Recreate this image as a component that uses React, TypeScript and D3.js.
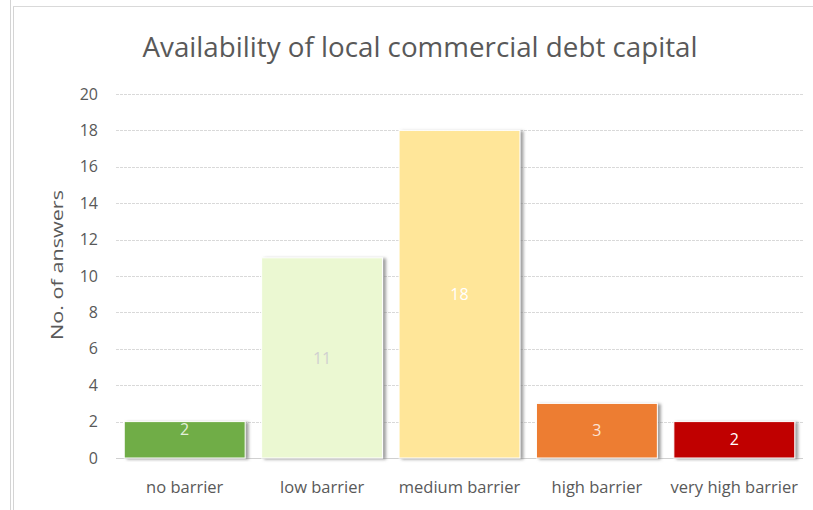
import { useMemo } from "react";
import * as d3 from "d3";

const categories = ["no barrier", "low barrier", "medium barrier", "high barrier", "very high barrier"];
const answers = [2, 11, 18, 3, 2];
const barColors = ["#70AD47", "#EBF8D2", "#FFE699", "#ED7D31", "#C00000"];
const labelColors = ["#E2EFDA", "#D0D0D0", "#FFFFFF", "#FCE4D6", "#FFFFFF"];
const labelModes = ["end", "center", "center", "center", "center"];
const yTicks = [0, 2, 4, 6, 8, 10, 12, 14, 16, 18, 20];

const W = 813;
const H = 510;
const PLOT = { left: 116, right: 803, top: 94, bottom: 458 };
const FONT = "'Open Sans', sans-serif";

export default function App() {
  const x = useMemo(
    () => d3.scaleBand<string>().domain(categories).range([PLOT.left, PLOT.right]).paddingInner(0.12).paddingOuter(0.06),
    []
  );
  const y = useMemo(() => d3.scaleLinear().domain([0, 20]).range([PLOT.bottom, PLOT.top]), []);

  return (
    <svg
      width={W}
      height={H}
      style={{ position: "absolute", left: 0, top: 0, background: "#fff" }}
      fontFamily={FONT}
    >
      <defs>
        <filter id="shadow" x="-10%" y="-10%" width="130%" height="120%">
          <feDropShadow dx={3} dy={1} stdDeviation={1.8} floodColor="#777" floodOpacity={0.7} />
        </filter>
      </defs>

      {/* frame */}
      <line x1={10.5} x2={10.5} y1={0} y2={H} stroke="#d4d4d4" />
      <line x1={13.5} x2={13.5} y1={6} y2={H} stroke="#d4d4d4" />
      <line x1={13} x2={W} y1={6.5} y2={6.5} stroke="#d9d9d9" />

      <text
        x={420}
        y={57}
        textAnchor="middle"
        fontSize={27}
        fill="#595959"
        textLength={555}
        lengthAdjust="spacingAndGlyphs"
      >
        Availability of local commercial debt capital
      </text>

      {/* gridlines */}
      {yTicks.map((t) => (
        <g key={t}>
          <line
            x1={PLOT.left}
            x2={PLOT.right}
            y1={Math.round(y(t)) + 0.5}
            y2={Math.round(y(t)) + 0.5}
            stroke={t === 0 ? "#d0d0d0" : "#d9d9d9"}
            strokeDasharray={t === 0 ? undefined : "3 1"}
          />
          <text
            x={98}
            y={y(t)}
            dy="0.35em"
            textAnchor="end"
            fontSize={16}
            fill="#595959"
          >
            {t}
          </text>
        </g>
      ))}

      <text
        transform={`translate(57,${(PLOT.top + PLOT.bottom) / 2 - 11}) rotate(-90)`}
        textAnchor="middle"
        dy="0.35em"
        fontSize={17}
        fill="#595959"
        textLength={150}
        lengthAdjust="spacingAndGlyphs"
      >
        No. of answers
      </text>

      {/* bars */}
      {categories.map((c, i) => {
        const bx = x(c)!;
        const top = y(answers[i]);
        const h = y(0) - top;
        const ly = labelModes[i] === "end" ? top + 8 : top + h / 2;
        return (
          <g key={c}>
            <rect
              x={bx}
              y={top}
              width={x.bandwidth()}
              height={h}
              fill={barColors[i]}
              stroke="#ffffff"
              strokeWidth={1}
              filter="url(#shadow)"
            />
            <text
              x={bx + x.bandwidth() / 2}
              y={ly}
              dy="0.35em"
              textAnchor="middle"
              fontSize={16}
              fill={labelColors[i]}
            >
              {answers[i]}
            </text>
            <text
              x={bx + x.bandwidth() / 2}
              y={487}
              dy="0.35em"
              textAnchor="middle"
              fontSize={16.5}
              fill="#595959"
            >
              {c}
            </text>
          </g>
        );
      })}
    </svg>
  );
}
